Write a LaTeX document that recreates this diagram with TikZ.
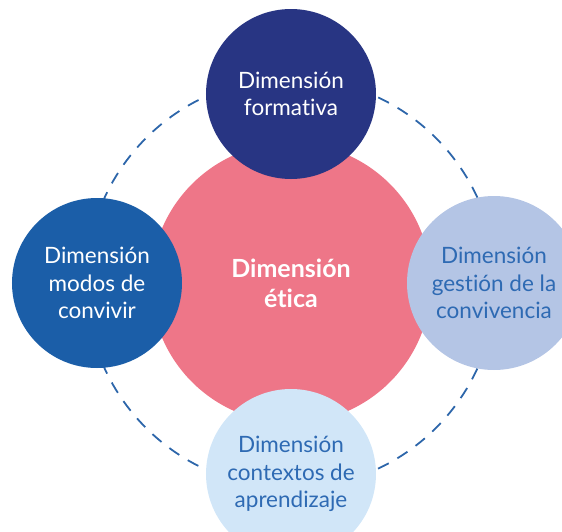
\documentclass[tikz,border=0pt]{standalone}
\usepackage{fontspec}
\setmainfont{Lato}[Ligatures=NoCommon]
\usepackage{tikz}
\usetikzlibrary{positioning}

\definecolor{navy}{HTML}{283583}
\definecolor{azul}{HTML}{1B5EA8}
\definecolor{lavanda}{HTML}{B4C5E5}
\definecolor{celeste}{HTML}{D1E6F8}
\definecolor{rosa}{HTML}{EE7688}
\definecolor{letra}{HTML}{2E6AB3}
\definecolor{raya}{HTML}{2D66AA}

\begin{document}
\begin{tikzpicture}[x=1pt,y=1pt,on grid,
    dim/.style={circle,minimum size=170pt,inner sep=0pt,align=center,
      font=\fontsize{22.5}{27.5}\selectfont}]
    \useasboundingbox (-291,-248) rectangle (271,283);
    % dashed ring behind everything
    \draw[raya,line width=1.8pt,dash pattern=on 12pt off 10pt] (0,0) circle (205);
    \node[circle,fill=rosa,minimum size=280pt,inner sep=0pt,align=center,text=white,
      font=\bfseries\fontsize{25}{30}\selectfont] (etica) at (0,0) {Dimensión\\ética};
    \node[dim,fill=navy,text=white]   (formativa) [above=189pt of etica] {Dimensión\\formativa};
    \node[dim,fill=azul,text=white]   (modos)     [left=194pt of etica]  {Dimensión\\modos de\\convivir};
    \node[dim,fill=lavanda,text=letra,minimum size=174pt] (gestion) [right=203pt of etica] {Dimensión\\gestión de la\\convivencia};
    \node[dim,fill=celeste,text=letra] (contextos) [below=191pt of etica] {Dimensión\\contextos de\\aprendizaje};
  \end{tikzpicture}
\end{document}
